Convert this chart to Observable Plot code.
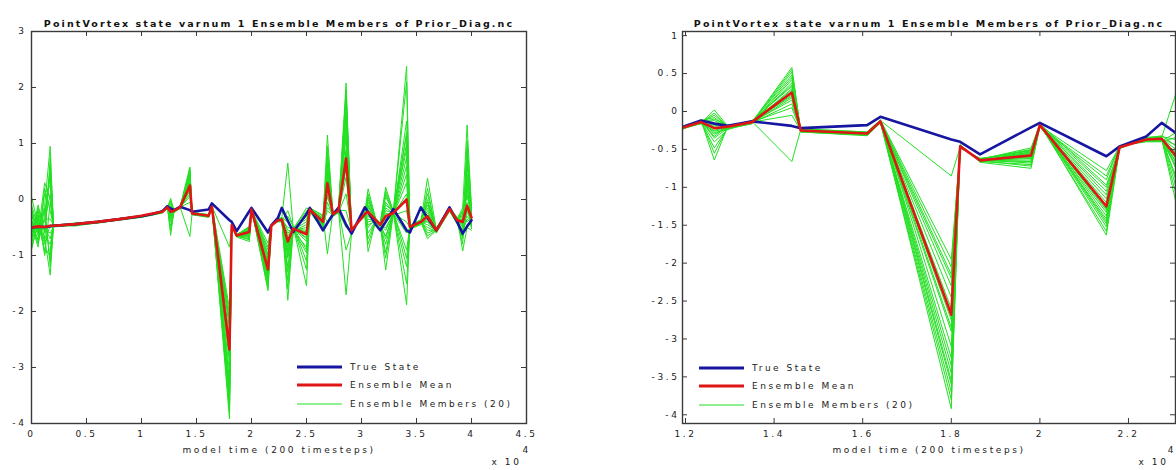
<!DOCTYPE html>
<html><head><meta charset="utf-8">
<script src="https://cdn.jsdelivr.net/npm/d3@7"></script>
<script src="https://cdn.jsdelivr.net/npm/@observablehq/plot@0.6"></script>
<style>
html,body{margin:0;padding:0;background:#fff;}
#wrap{position:relative;width:1176px;height:470px;overflow:hidden;background:#fff;}
.panel{position:absolute;top:0;}
.panel svg{display:block;overflow:visible;}
svg text{letter-spacing:2.6px;}
.legend{position:absolute;font-family:"DejaVu Sans";font-size:9px;letter-spacing:2.5px;color:#222;}
.legend .row{height:18.6px;display:flex;align-items:center;white-space:nowrap;}
.legend svg{margin-right:8px;display:block;}
</style></head><body><div id="wrap"></div>
<script>
// ---- data (model time in units of 10^4) ----
const times = [0.00,0.06,0.12,0.17,0.20,0.40,0.60,0.80,1.00,1.10,1.19,1.235,1.265,1.295,1.35,1.44,1.46,1.61,1.64,1.80,1.82,1.865,1.98,2.00,2.15,2.18,2.24,2.275,2.33,2.38,2.50,2.53,2.65,2.69,2.74,2.79,2.86,2.91,3.03,3.06,3.13,3.17,3.22,3.29,3.41,3.44,3.54,3.60,3.68,3.80,3.87,3.92,3.96,4.00];
const trueState = [-0.50,-0.49,-0.49,-0.48,-0.47,-0.44,-0.40,-0.35,-0.30,-0.26,-0.21,-0.12,-0.16,-0.19,-0.13,-0.19,-0.22,-0.18,-0.07,-0.37,-0.40,-0.565,-0.21,-0.15,-0.59,-0.46,-0.33,-0.15,-0.38,-0.58,-0.26,-0.15,-0.55,-0.42,-0.27,-0.15,-0.45,-0.61,-0.14,-0.22,-0.45,-0.55,-0.40,-0.17,-0.55,-0.59,-0.14,-0.33,-0.55,-0.14,-0.40,-0.61,-0.48,-0.37];
const ensembleMean = [-0.50,-0.48,-0.49,-0.47,-0.47,-0.44,-0.40,-0.35,-0.29,-0.25,-0.22,-0.14,-0.22,-0.20,-0.14,0.25,-0.25,-0.29,-0.13,-2.68,-0.46,-0.645,-0.58,-0.18,-1.25,-0.47,-0.37,-0.36,-0.75,-0.52,-0.62,-0.18,-0.40,0.29,-0.26,-0.20,0.73,-0.55,-0.26,-0.22,-0.37,-0.45,-0.30,-0.24,0.00,-0.49,-0.40,-0.30,-0.55,-0.17,-0.37,-0.40,-0.11,-0.32];
// 20 ensemble members, one row per time above
const memberRows = [
"-0.20 -0.55 -0.35 -0.80 0.05 -0.45 -0.65 -0.30 -0.90 -0.50 -0.10 -0.70 -0.40 -0.60 -0.25 -0.75 -0.15 -0.85 -0.52 -0.38",
"-0.60 -0.20 -0.75 -0.30 -0.45 -0.85 -0.10 -0.55 -0.40 -0.70 -0.50 -0.25 -0.80 -0.35 -0.65 -0.15 -0.60 -0.45 -0.30 -0.55",
"-0.10 -0.70 -0.30 -0.95 -0.40 0.20 -0.60 -0.20 -0.80 0.10 -0.50 -1.00 -0.15 -0.75 -0.35 -0.55 0.30 -0.90 -0.25 -0.65",
"0.95 -1.35 0.40 -0.90 0.10 -0.20 0.60 -1.10 -0.45 0.25 -0.70 -0.05 -1.20 0.75 -0.35 -0.60 0.00 -1.00 0.50 -0.80",
"-0.47 -0.46 -0.48 -0.47 -0.45 -0.49 -0.47 -0.46 -0.48 -0.47 -0.47 -0.46 -0.48 -0.47 -0.45 -0.49 -0.47 -0.46 -0.48 -0.47",
"-0.44 -0.46 -0.43 -0.47 -0.44 -0.45 -0.42 -0.46 -0.44 -0.43 -0.45 -0.47 -0.44 -0.43 -0.46 -0.44 -0.45 -0.42 -0.46 -0.44",
"-0.40 -0.41 -0.39 -0.42 -0.40 -0.41 -0.39 -0.40 -0.42 -0.40 -0.41 -0.39 -0.40 -0.41 -0.42 -0.40 -0.39 -0.41 -0.40 -0.41",
"-0.35 -0.36 -0.34 -0.36 -0.35 -0.34 -0.36 -0.35 -0.37 -0.35 -0.34 -0.36 -0.35 -0.34 -0.36 -0.35 -0.35 -0.36 -0.34 -0.35",
"-0.30 -0.31 -0.29 -0.31 -0.30 -0.29 -0.31 -0.30 -0.32 -0.30 -0.29 -0.31 -0.30 -0.29 -0.31 -0.30 -0.30 -0.31 -0.29 -0.30",
"-0.26 -0.27 -0.25 -0.27 -0.26 -0.25 -0.27 -0.26 -0.28 -0.26 -0.25 -0.27 -0.26 -0.25 -0.27 -0.26 -0.26 -0.27 -0.25 -0.26",
"-0.22 -0.23 -0.21 -0.24 -0.22 -0.20 -0.23 -0.22 -0.24 -0.21 -0.22 -0.23 -0.20 -0.22 -0.24 -0.21 -0.23 -0.22 -0.21 -0.23",
"-0.14 -0.12 -0.15 -0.13 -0.16 -0.12 -0.14 -0.15 -0.11 -0.14 -0.13 -0.16 -0.14 -0.12 -0.15 -0.13 -0.14 -0.16 -0.12 -0.15",
"-0.05 -0.35 0.02 -0.28 -0.18 -0.64 -0.10 -0.30 -0.22 -0.40 -0.15 -0.25 -0.48 -0.08 -0.20 -0.33 -0.12 -0.26 -0.55 -0.02",
"-0.20 -0.22 -0.19 -0.23 -0.21 -0.20 -0.18 -0.22 -0.21 -0.24 -0.19 -0.20 -0.22 -0.21 -0.23 -0.19 -0.20 -0.22 -0.21 -0.20",
"-0.14 -0.15 -0.13 -0.16 -0.14 -0.12 -0.15 -0.14 -0.16 -0.13 -0.14 -0.15 -0.12 -0.14 -0.16 -0.13 -0.15 -0.14 -0.13 -0.15",
"0.58 0.30 -0.66 0.45 0.15 0.25 0.52 0.05 0.38 0.20 0.48 0.10 0.33 -0.05 0.42 0.28 0.18 0.55 0.35 0.22",
"-0.25 -0.26 -0.24 -0.27 -0.25 -0.23 -0.26 -0.25 -0.27 -0.24 -0.25 -0.26 -0.23 -0.25 -0.27 -0.24 -0.26 -0.25 -0.24 -0.26",
"-0.29 -0.30 -0.28 -0.31 -0.29 -0.27 -0.30 -0.29 -0.32 -0.28 -0.29 -0.30 -0.27 -0.29 -0.31 -0.28 -0.30 -0.29 -0.28 -0.30",
"-0.13 -0.14 -0.12 -0.15 -0.13 -0.11 -0.14 -0.13 -0.15 -0.12 -0.13 -0.14 -0.11 -0.13 -0.15 -0.12 -0.14 -0.13 -0.12 -0.14",
"-2.30 -3.60 -0.85 -2.90 -3.92 -1.95 -3.25 -2.60 -3.80 -2.15 -3.45 -2.75 -3.10 -2.45 -3.70 -2.05 -3.35 -2.85 -3.55 -2.20",
"-0.46 -0.45 -0.47 -0.44 -0.46 -0.48 -0.45 -0.46 -0.44 -0.47 -0.46 -0.45 -0.48 -0.46 -0.44 -0.47 -0.45 -0.46 -0.47 -0.45",
"-0.64 -0.65 -0.63 -0.66 -0.64 -0.62 -0.65 -0.64 -0.67 -0.63 -0.64 -0.65 -0.62 -0.64 -0.66 -0.63 -0.65 -0.64 -0.63 -0.65",
"-0.55 -0.62 -0.48 -0.70 -0.58 -0.52 -0.66 -0.60 -0.75 -0.50 -0.57 -0.64 -0.54 -0.68 -0.59 -0.51 -0.72 -0.56 -0.61 -0.53",
"-0.18 -0.19 -0.17 -0.20 -0.18 -0.16 -0.19 -0.18 -0.20 -0.17 -0.18 -0.19 -0.16 -0.18 -0.20 -0.17 -0.19 -0.18 -0.17 -0.19",
"-1.20 -0.78 -1.45 -0.90 -1.30 -1.63 -1.05 -1.38 -0.85 -1.52 -1.15 -1.25 -0.97 -1.58 -1.33 -1.10 -1.42 -1.00 -1.48 -1.28",
"-0.47 -0.46 -0.48 -0.45 -0.47 -0.49 -0.46 -0.47 -0.45 -0.48 -0.47 -0.46 -0.49 -0.47 -0.45 -0.48 -0.46 -0.47 -0.48 -0.46",
"-0.37 -0.38 -0.36 -0.39 -0.37 -0.34 -0.38 -0.37 -0.40 -0.36 -0.37 -0.38 -0.35 -0.37 -0.39 -0.36 -0.38 -0.37 -0.36 -0.38",
"-0.36 -0.37 -0.34 -0.39 -0.36 -0.33 -0.38 -0.35 -0.40 -0.34 -0.36 -0.37 -0.32 -0.36 -0.39 -0.35 -0.37 -0.36 -0.34 -0.38",
"-0.60 -1.20 0.65 -0.95 -1.80 -0.40 -0.85 -1.45 -0.30 -1.05 -0.70 -1.60 -0.55 -0.90 -0.20 -1.30 -0.80 -0.50 -1.00 -0.65",
"-0.52 -0.50 -0.54 -0.49 -0.53 -0.56 -0.51 -0.52 -0.48 -0.55 -0.52 -0.50 -0.57 -0.52 -0.49 -0.54 -0.51 -0.53 -0.55 -0.50",
"-0.55 -0.90 -0.30 -1.54 -0.62 -0.45 -0.75 -0.20 -1.10 -0.50 -0.68 -0.35 -0.85 -0.58 -1.25 -0.40 -0.70 -0.15 -0.95 -0.60",
"-0.18 -0.20 -0.16 -0.21 -0.18 -0.15 -0.19 -0.18 -0.22 -0.17 -0.18 -0.20 -0.15 -0.18 -0.21 -0.17 -0.19 -0.18 -0.16 -0.20",
"-0.40 -0.45 -0.35 -0.50 -0.38 -0.30 -0.44 -0.40 -0.55 -0.33 -0.42 -0.47 -0.28 -0.40 -0.52 -0.36 -0.43 -0.39 -0.34 -0.46",
"0.40 -0.20 1.15 0.10 0.65 -0.97 0.30 0.85 -0.05 0.50 0.20 0.95 -0.40 0.60 0.35 0.05 0.75 0.25 -0.15 0.45",
"-0.26 -0.28 -0.24 -0.29 -0.26 -0.22 -0.27 -0.26 -0.30 -0.25 -0.26 -0.28 -0.23 -0.26 -0.29 -0.25 -0.27 -0.26 -0.24 -0.28",
"-0.20 -0.22 -0.18 -0.23 -0.20 -0.17 -0.21 -0.20 -0.24 -0.19 -0.20 -0.22 -0.17 -0.20 -0.23 -0.19 -0.21 -0.20 -0.18 -0.22",
"1.20 -0.50 2.08 0.40 1.60 -1.70 0.90 1.85 0.10 1.35 0.65 1.95 -0.90 1.10 0.75 -0.20 1.50 0.55 1.75 0.85",
"-0.55 -0.53 -0.57 -0.52 -0.56 -0.59 -0.54 -0.55 -0.51 -0.58 -0.55 -0.53 -0.60 -0.55 -0.52 -0.57 -0.54 -0.56 -0.58 -0.53",
"-0.26 -0.28 -0.24 -0.30 -0.26 -0.22 -0.27 -0.26 -0.31 -0.25 -0.26 -0.28 -0.23 -0.26 -0.29 -0.25 -0.27 -0.26 -0.24 -0.28",
"-0.10 -0.45 0.19 -0.30 -0.93 -0.15 -0.60 0.05 -0.25 -0.70 -0.05 -0.35 -0.50 0.10 -0.20 -0.80 -0.12 -0.40 0.00 -0.28",
"-0.37 -0.39 -0.35 -0.40 -0.37 -0.34 -0.38 -0.37 -0.41 -0.36 -0.37 -0.39 -0.34 -0.37 -0.40 -0.36 -0.38 -0.37 -0.35 -0.39",
"-0.45 -0.47 -0.43 -0.48 -0.45 -0.42 -0.46 -0.45 -0.49 -0.44 -0.45 -0.47 -0.42 -0.45 -0.48 -0.44 -0.46 -0.45 -0.43 -0.47",
"-0.20 -0.65 0.22 -0.40 -1.26 -0.10 -0.80 0.05 -0.30 -0.95 0.10 -0.50 -0.70 -0.05 -0.35 -1.05 -0.15 -0.55 0.15 -0.25",
"-0.24 -0.26 -0.22 -0.27 -0.24 -0.21 -0.25 -0.24 -0.28 -0.23 -0.24 -0.26 -0.21 -0.24 -0.27 -0.23 -0.25 -0.24 -0.22 -0.26",
"1.40 -1.20 2.38 0.30 -1.88 0.90 -0.60 1.20 -0.20 1.15 -1.50 0.60 2.10 -0.90 0.10 1.00 -0.40 0.75 -1.05 0.45",
"-0.49 -0.51 -0.47 -0.52 -0.49 -0.46 -0.50 -0.49 -0.53 -0.48 -0.49 -0.51 -0.46 -0.49 -0.52 -0.48 -0.50 -0.49 -0.47 -0.51",
"-0.40 -0.42 -0.38 -0.44 -0.40 -0.36 -0.41 -0.40 -0.45 -0.39 -0.40 -0.42 -0.37 -0.40 -0.43 -0.39 -0.41 -0.40 -0.38 -0.42",
"-0.20 -0.50 0.38 -0.35 -0.70 -0.10 -0.45 0.10 -0.28 -0.60 0.00 -0.40 -0.15 -0.55 0.20 -0.30 -0.05 -0.65 -0.25 -0.38",
"-0.55 -0.57 -0.53 -0.58 -0.55 -0.51 -0.56 -0.55 -0.60 -0.54 -0.55 -0.57 -0.52 -0.55 -0.59 -0.54 -0.56 -0.55 -0.53 -0.57",
"-0.17 -0.19 -0.15 -0.20 -0.17 -0.14 -0.18 -0.17 -0.21 -0.16 -0.17 -0.19 -0.14 -0.17 -0.20 -0.16 -0.18 -0.17 -0.15 -0.19",
"-0.37 -0.40 -0.34 -0.42 -0.37 -0.32 -0.39 -0.37 -0.44 -0.35 -0.37 -0.40 -0.33 -0.37 -0.41 -0.35 -0.38 -0.37 -0.34 -0.40",
"-0.30 -0.55 -0.15 -0.70 -0.40 -0.92 -0.25 -0.48 -0.62 -0.20 -0.35 -0.80 -0.45 -0.28 -0.58 -0.38 -0.66 -0.22 -0.50 -0.33",
"0.20 -0.35 1.33 -0.10 0.60 -0.50 0.05 0.90 -0.25 0.35 -0.40 0.75 -0.15 0.10 1.05 -0.30 0.45 -0.05 0.25 -0.20",
"-0.30 -0.42 -0.15 -0.50 -0.28 -0.55 -0.22 -0.38 -0.10 -0.45 -0.32 -0.25 -0.48 -0.35 -0.18 -0.40 -0.27 -0.52 -0.33 -0.20"
];
const leftXTicks = [0, 0.5, 1, 1.5, 2, 2.5, 3, 3.5, 4, 4.5];
const leftYTicks = [-4, -3, -2, -1, 0, 1, 2, 3];
const rightXTicks = [1.2, 1.4, 1.6, 1.8, 2, 2.2];
const rightYTicks = [-4, -3.5, -3, -2.5, -2, -1.5, -1, -0.5, 0, 0.5, 1];
const titleText = "PointVortex state varnum 1 Ensemble Members of Prior_Diag.nc";
const xLabelText = "model time (200 timesteps)";
const legendLabels = ["True State", "Ensemble Mean", "Ensemble Members (20)"];

// ---- tidy tables ----
const members = memberRows.map(s => s.trim().split(/\s+/).map(Number));
const memberData = [];
for (let m = 0; m < 20; m++) times.forEach((t, i) => memberData.push({member: m, t, v: members[i][m]}));
const truthData = times.map((t, i) => ({t, v: trueState[i]}));
const meanData = times.map((t, i) => ({t, v: ensembleMean[i]}));

const GREEN = "#22e022", BLUE = "#1616a0", RED = "#e01616", AX = "#3a3a3a";

function panel(o) {
  const mT = 31, mB = 47, height = 470;
  const W = o.width - o.marginLeft - o.marginRight;
  const H = height - mT - mB;
  const tl = 5;
  const svg = Plot.plot({
    width: o.width, height,
    marginTop: mT, marginBottom: mB, marginLeft: o.marginLeft, marginRight: o.marginRight,
    x: {domain: o.xDomain},
    y: {domain: o.yDomain},
    style: {fontFamily: "DejaVu Sans", fontSize: "9px", color: "#222", background: "transparent"},
    marks: [
      Plot.line(memberData, {x: "t", y: "v", z: "member", stroke: GREEN, strokeWidth: 1, clip: true}),
      Plot.line(truthData, {x: "t", y: "v", stroke: BLUE, strokeWidth: 2.6, clip: true}),
      Plot.line(meanData, {x: "t", y: "v", stroke: RED, strokeWidth: 2.6, clip: true}),
      Plot.frame({stroke: AX, strokeWidth: 1.4}),
      Plot.tickX(o.xTicks, {x: d => d, insetTop: H - tl, stroke: AX}),
      Plot.tickX(o.xTicks, {x: d => d, insetBottom: H - tl, stroke: AX}),
      Plot.tickY(o.yTicks, {y: d => d, insetRight: W - tl, stroke: AX}),
      Plot.tickY(o.yTicks, {y: d => d, insetLeft: W - tl, stroke: AX}),
      Plot.axisX({ticks: o.xTicks, tickSize: 0, tickPadding: 7, tickFormat: d => String(d), label: null}),
      Plot.axisY({ticks: o.yTicks, tickSize: 0, tickPadding: o.yPad, tickFormat: d => String(d), label: null}),
      Plot.text([titleText], {text: d => d, frameAnchor: "top", dy: -11, fontWeight: "bold", fontSize: 9.5, fill: "#111"}),
      Plot.text([xLabelText], {text: d => d, frameAnchor: "bottom", dy: 29, fill: "#222"}),
      Plot.text(["x 10"], {text: d => d, frameAnchor: "bottom-right", dx: o.expDx, dy: 41, textAnchor: "end", fill: "#222"}),
      Plot.text(["4"], {text: d => d, frameAnchor: "bottom-right", dx: o.exp4Dx, dy: 29, textAnchor: o.exp4Anchor, fill: "#222"})
    ]
  });
  // per-text letter spacing (title is tighter, exponent has none)
  d3.select(svg).selectAll("text").each(function() {
    if (this.textContent === titleText) this.style.letterSpacing = "2.1px";
    else if (this.textContent === "4" && this.getAttribute("font-size") === null && this.closest("g[aria-label='text']")) this.style.letterSpacing = "0px";
  });
  return svg;
}

const wrap = document.getElementById("wrap");
function place(el, left) {
  const d = document.createElement("div");
  d.className = "panel"; d.style.left = left + "px";
  d.appendChild(el); wrap.appendChild(d);
}
place(panel({width: 560, marginLeft: 31, marginRight: 34, xDomain: [0, 4.5], yDomain: [-4, 3],
  xTicks: leftXTicks, yTicks: leftYTicks, yPad: 5, expDx: -5, exp4Dx: -4, exp4Anchor: "start"}), 0);
place(panel({width: 586, marginLeft: 92, marginRight: 1, xDomain: [1.1932, 2.3061], yDomain: [-4.115, 1.055],
  xTicks: rightXTicks, yTicks: rightYTicks, yPad: 3, expDx: -7, exp4Dx: -2, exp4Anchor: "end"}), 590);

function legend(left, top) {
  const lg = document.createElement("div");
  lg.className = "legend"; lg.style.left = left + "px"; lg.style.top = top + "px";
  const styles = [[BLUE, 3], [RED, 3], [GREEN, 1]];
  legendLabels.forEach((lab, i) => {
    const row = document.createElement("div"); row.className = "row";
    row.innerHTML = `<svg width="45" height="10"><line x1="0" x2="45" y1="5" y2="5" stroke="${styles[i][0]}" stroke-width="${styles[i][1]}"/></svg><span>${lab}</span>`;
    lg.appendChild(row);
  });
  wrap.appendChild(lg);
}
legend(297, 357.5);
legend(699, 358.5);
</script></body></html>
